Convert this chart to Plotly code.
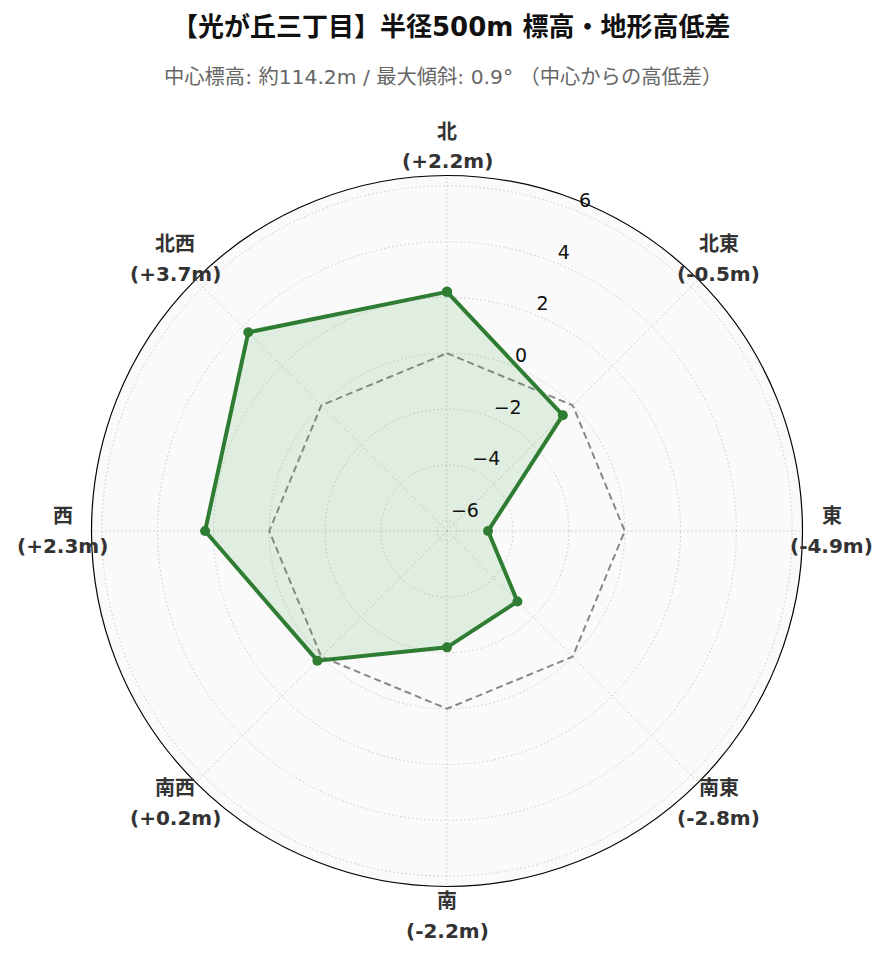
import math
import plotly.graph_objects as go

directions = ["北", "北東", "東", "南東", "南", "南西", "西", "北西"]
bearings = [0, 45, 90, 135, 180, 225, 270, 315]
diffs = [2.2, -0.5, -4.9, -2.8, -2.2, 0.2, 2.3, 3.7]
baseline = [0, 0, 0, 0, 0, 0, 0, 0]
radial_ticks = [-6, -4, -2, 0, 2, 4, 6]
radial_ticktext = ["−6", "−4", "−2", "0", "2", "4", "6"]
radial_range = [-6.37, 6.37]
radial_label_bearing = 22.5

title_text = "【光が丘三丁目】半径500m 標高・地形高低差"
subtitle_text = "中心標高: 約114.2m / 最大傾斜: 0.9° （中心からの高低差）"

value_labels = [f"({v:+.1f}m)" for v in diffs]
theta_closed = bearings + [bearings[0]]

FONT = "DejaVu Sans, Noto Sans CJK JP, sans-serif"
W, H = 889, 962
OFF = 8  # page offset of the plot div


def px(x):
    return (x - OFF) / W


def py(y):
    return 1 - (y - OFF) / H


fig = go.Figure()
fig.add_trace(go.Scatterpolar(
    r=baseline + [baseline[0]], theta=theta_closed, mode="lines",
    line=dict(color="#888888", width=2, dash="7px,4px"), hoverinfo="skip",
    showlegend=False,
))
fig.add_trace(go.Scatterpolar(
    r=diffs + [diffs[0]], theta=theta_closed, mode="lines+markers",
    line=dict(color="#2e7d32", width=4), marker=dict(size=10, color="#2e7d32"),
    fill="toself", fillcolor="rgba(76,175,80,0.15)", showlegend=False,
))
fig.add_trace(go.Scatterpolar(
    r=radial_ticks,
    theta=[radial_label_bearing] * len(radial_ticks),
    mode="text", text=radial_ticktext, textposition="top right",
    textfont=dict(size=19, color="#111111", family="DejaVu Sans"),
    cliponaxis=False, hoverinfo="skip", showlegend=False,
))

# polar geometry (pixels in the page)
CX, CY, R = 447, 531, 355.5
LABEL_R = R + 29
LINE_GAP = 15

annotations = [
    dict(text=f"<b>{title_text}</b>", x=px(451), y=py(27), xref="paper", yref="paper",
         showarrow=False, font=dict(size=26, color="#111111"), xanchor="center", yanchor="middle"),
    dict(text=subtitle_text, x=px(443), y=py(77), xref="paper", yref="paper",
         showarrow=False, font=dict(size=20.3, color="#666666"), xanchor="center", yanchor="middle"),
]
for name, val, b in zip(directions, value_labels, bearings):
    ax = CX + LABEL_R * math.sin(math.radians(b))
    ay = CY - LABEL_R * math.cos(math.radians(b))
    annotations.append(dict(text=f"<b>{name}</b>", x=px(ax), y=py(ay - LINE_GAP),
                            xref="paper", yref="paper", showarrow=False,
                            xanchor="center", yanchor="middle",
                            font=dict(size=20, color="#333333", family=FONT)))
    annotations.append(dict(text=f"<b>{val}</b>", x=px(ax), y=py(ay + LINE_GAP),
                            xref="paper", yref="paper", showarrow=False,
                            xanchor="center", yanchor="middle",
                            font=dict(size=20, color="#333333", family=FONT)))

fig.update_layout(
    width=W, height=H,
    margin=dict(l=0, r=0, t=0, b=0),
    paper_bgcolor="white",
    font=dict(family=FONT, color="#333333"),
    annotations=annotations,
    polar=dict(
        domain=dict(x=[px(CX - R), px(CX + R)], y=[py(CY + R), py(CY - R)]),
        bgcolor="#fafafa",
        angularaxis=dict(
            direction="clockwise", rotation=90, thetaunit="degrees",
            tickmode="array", tickvals=bearings, showticklabels=False,
            showline=True, linecolor="black", linewidth=1.2,
            gridcolor="#c8c8c8", griddash="1.5px,2.5px", gridwidth=1,
            ticks="",
        ),
        radialaxis=dict(
            range=radial_range, tickvals=radial_ticks,
            angle=67.5, showline=False, ticks="", showticklabels=False,
            gridcolor="#c8c8c8", griddash="1.5px,2.5px", gridwidth=1,
        ),
    ),
)

fig.write_html("out.html")
